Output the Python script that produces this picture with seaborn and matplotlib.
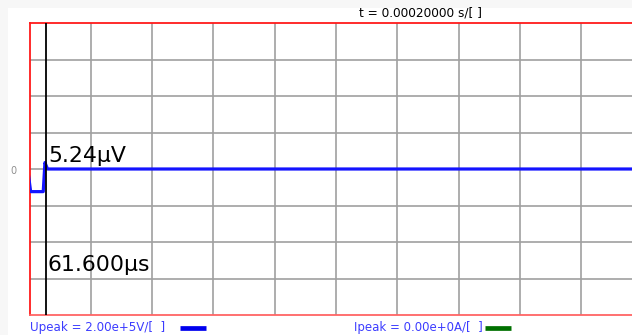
import numpy as np
import pandas as pd
import matplotlib
matplotlib.use("Agg")
import matplotlib.pyplot as plt
import seaborn as sns
from matplotlib.lines import Line2D
from matplotlib.patches import Rectangle
from matplotlib.transforms import blended_transform_factory

# Voltage trace: time in µs, voltage in µV
time_us = [55.9, 56.6, 60.7, 61.26, 62.1, 100.0, 150.0, 200.0, 260.0]
volt_uv = [-9.0, -31.0, -31.0, 8.8, 0.0, 0.0, 0.0, 0.0, 0.0]

# Cursor readout
cursor_t = 61.6
cursor_v = 5.24

# Scope settings
t_start = 56.22        # µs at left edge of the screen
t_per_div = 20.0       # µs / division
v_per_div = 50.0       # µV / division
n_vdiv = 4             # divisions above / below zero
t_total = 0.0002       # s
u_peak = 2.00e5
i_peak = 0.0

W, H = 632, 335
DPI = 100

sns.set_style("white")
plt.rcParams["font.family"] = ["DejaVu Sans"]

fig = plt.figure(figsize=(W / DPI, H / DPI), dpi=DPI, facecolor="#f7f7f7")
fig.patches.append(Rectangle((8 / W, 0), 1, 1 - 8 / H, transform=fig.transFigure,
                             facecolor="white", edgecolor="none", zorder=-10))

left_px, top_px, bottom_px = 29.5, 23, 315
ax = fig.add_axes([left_px / W, 1 - bottom_px / H, (W - left_px) / W, (bottom_px - top_px) / H])
ax.set_facecolor("white")

df = pd.DataFrame({"t": time_us, "u": volt_uv})
sns.lineplot(data=df, x="t", y="u", ax=ax, color="#1414ff", lw=2.3,
             sort=False, estimator=None, zorder=3)
ax.set_xlabel("")
ax.set_ylabel("")

# Screen grid: 10 time divisions (only part of the last one is on screen), 8 voltage divisions
n_hdiv_visible = (W - left_px) / 61.3
ax.set_xticks([t_start + k * t_per_div for k in range(1, 10)])
ax.set_yticks([k * v_per_div for k in range(-n_vdiv + 1, n_vdiv)])
ax.set_xlim(t_start, t_start + n_hdiv_visible * t_per_div)
ax.set_ylim(-n_vdiv * v_per_div, n_vdiv * v_per_div)
ax.tick_params(length=0, labelbottom=False, labelleft=False)
ax.grid(True, color="#a0a0a0", lw=1.2)
ax.set_axisbelow(True)

for side in ["left", "top"]:
    ax.spines[side].set_color("#ff1a1a")
    ax.spines[side].set_linewidth(1.3)
ax.spines["bottom"].set_color("#ff6464")
ax.spines["bottom"].set_linewidth(1.3)
ax.spines["right"].set_visible(False)

# Cursor
ax.axvline(cursor_t, color="black", lw=1.3, zorder=4)
blend = blended_transform_factory(ax.transData, ax.transAxes)
ax.annotate(f"{cursor_v:.2f}µV", xy=(cursor_t, 0.524), xycoords=blend,
            xytext=(1.5, 0), textcoords="offset points",
            fontsize=15.8, va="baseline", ha="left", color="black", zorder=5)
ax.annotate(f"{cursor_t:.3f}µs", xy=(cursor_t, 0.151), xycoords=blend,
            xytext=(1.0, 0), textcoords="offset points",
            fontsize=15.8, va="baseline", ha="left", color="black", zorder=5)


def fx(x):
    return x / W


def fy(y):
    return 1 - y / H


fig.text(fx(13.5), fy(171), "0", fontsize=7, color="#909090", ha="center", va="center")
fig.text(fx(359), fy(13.5), f"t = {t_total:.8f} s/[ ]", fontsize=8.7,
         color="black", ha="left", va="center")

fig.text(fx(30), fy(328), f"Upeak = {u_peak:.2e}V/[  ]".replace("e+05", "e+5"),
         fontsize=8.6, color="#3c3cff", ha="left", va="center")
fig.add_artist(Line2D([fx(180), fx(206)], [fy(327.7), fy(327.7)], color="#0000ee",
                      lw=3.4, solid_capstyle="butt", transform=fig.transFigure))
fig.text(fx(354), fy(328), f"Ipeak = {i_peak:.2e}A/[  ]".replace("e+00", "e+0"),
         fontsize=8.5, color="#3c3cff", ha="left", va="center")
fig.add_artist(Line2D([fx(485), fx(511)], [fy(327.7), fy(327.7)], color="#007000",
                      lw=3.4, solid_capstyle="butt", transform=fig.transFigure))

fig.savefig("out.png", dpi=DPI, facecolor=fig.get_facecolor())
